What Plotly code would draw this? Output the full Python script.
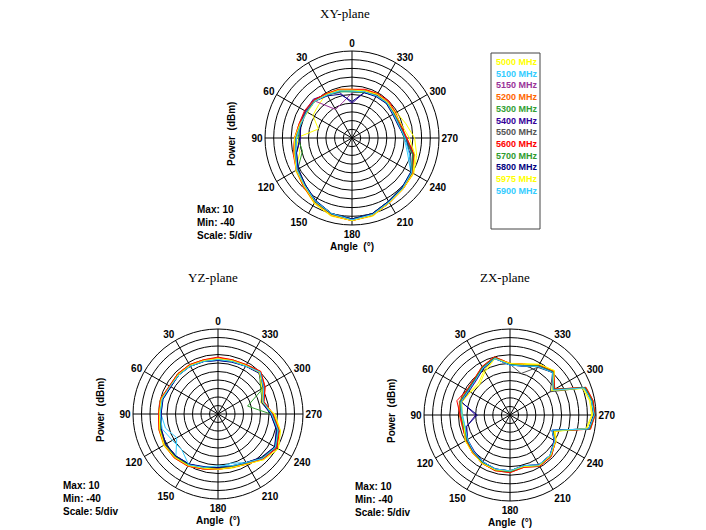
import plotly.graph_objects as go

W, H = 706, 530

FREQS = ["5000 MHz", "5100 MHz", "5150 MHz", "5200 MHz", "5300 MHz", "5400 MHz",
         "5500 MHz", "5600 MHz", "5700 MHz", "5800 MHz", "5975 MHz", "5900 MHz"]
COLORS = ["#FFFF00", "#33CCFF", "#993399", "#FF6600", "#33A033", "#330099",
          "#555555", "#FF0000", "#2E9B2E", "#000080", "#FFFF00", "#33CCFF"]

ANGLE_TICKS = list(range(0, 360, 30))
ANGLE_TEXT = [str(a) for a in ANGLE_TICKS]

XY_ANGLES = list(range(0, 360, 15))
XY_DATA = [
    [-12, -11, -10.5, -13, -14, -20, -8, -9, -2.5, -0.5, 3.5, 6.5, 7.5, 6.5, 3, 1.5, 1, -1.5, -4, -8, -10.5, -11, -10.5, -11.5],
    [-13.5, -12, -11, -9, -10, -9.5, -8, -6.5, -3, -1, 2, 5, 6.5, 5, 2, 0.5, -1, -7, -10, -12, -12.5, -11.5, -12, -12.5],
    [-14, -19, -21, -10, -9, -9.5, -7, -5.5, -4, -2, 2, 5, 7, 5.5, 2.5, 1, 0, -3, -9.5, -12, -12, -10.5, -11, -12.5],
    [-12.5, -11.5, -10.5, -9, -9, -8.5, -7, -5.5, -3, -1, 3, 6, 7.5, 6, 3, 1.5, 0.5, -3, -8.5, -11, -11.5, -10.5, -11, -11.5],
    [-13, -12.5, -11.5, -10, -10, -9.5, -8, -6.5, -3.5, -1.5, 2.5, 5.5, 7, 5.5, 2.5, 1, 0, -3.5, -9, -11.5, -12, -11.5, -12, -12.5],
    [-20, -13, -11, -8.5, -9, -9, -10.5, -7, -4, -2, 2, 5, 6.5, 5, 2, 0.5, -0.5, -4, -9.5, -12, -12.5, -11.5, -12, -13],
    [-12.5, -11.5, -11, -9.5, -9.5, -9, -7.5, -6, -3.5, -1.5, 2.5, 5.5, 7, 5.5, 2.5, 1, 0, -3.5, -9, -11.5, -12, -11, -11.5, -12],
    [-12, -11, -10.5, -9, -8.5, -8.5, -7, -5, -3, -0.5, 3, 6, 7.5, 6, 3, 1.5, 0.5, -3, -8.5, -11, -11, -10, -10.5, -11],
    [-13.5, -12.5, -11.5, -10, -10, -9.5, -9, -10.5, -4, -2, 2, 5, 6.5, 5, 2, 0.5, -0.5, -4, -10, -12, -12.5, -12, -12, -13],
    [-19, -14, -12, -10, -10, -9.5, -10, -7, -4.5, -2, 1.5, 5, 6.5, 5, 2, 0.5, -1, -5.5, -9.5, -12.5, -13, -12, -12.5, -13],
    [-12.5, -11.5, -11, -10, -10.5, -9, -7, -5.5, -3, -1, 3, 6, 7.5, 6, 3, 1.5, 0.5, -2.5, -7, -10.5, -11.5, -11, -11, -12],
    [-13, -12, -11.5, -10, -10, -9.5, -8, -6.5, -3.5, -1.5, 2, 5, 7, 5.5, 2.5, 1, -0.5, -6, -9.5, -12, -12.5, -11.5, -12, -12.5],
]

YZ_ANGLES = list(range(0, 360, 15))
YZ_DATA = [
    [-7.5, -7, -6.5, -6.5, -7, -5, -5, -4, -3, -3.5, -4.5, -6.5, -7.5, -7, -6, -2, 1, -2, -6.5, -14, -9.5, -5.5, -7, -7],
    [-8.5, -8, -7.5, -7.5, -8, -6.5, -6.5, -8, -12, -5, -6, -7.5, -8.5, -10, -7, -3.5, -1, -4, -8.5, -13, -9, -5.5, -7.5, -8],
    [-8, -7.5, -7, -7, -7.5, -6, -6, -5, -4.5, -4.5, -5.5, -7, -8, -8, -6.5, -3, -0.5, -3.5, -8, -12.5, -8.5, -5, -7, -7.5],
    [-7, -7, -6.5, -6.5, -7, -5.5, -5.5, -4.5, -3.5, -4, -5, -6.5, -7.5, -7.5, -6, -2.5, 0, -3, -7.5, -12, -8, -4.5, -6.5, -7],
    [-8, -7.5, -7, -7.5, -7.5, -6, -6, -5, -4, -4.5, -5.5, -7, -8, -8, -6.5, -3.5, -1, -4, -9, -22, -9, -5, -7, -7.5],
    [-8.5, -8, -7.5, -7, -8, -6, -6.5, -5.5, -4.5, -5, -6, -7.5, -8.5, -8, -7, -3.5, -1.5, -4, -9, -13, -9, -5.5, -7.5, -8],
    [-8, -7.5, -7, -7, -7.5, -5.5, -6, -4.5, -4, -4, -5, -7, -8, -7.5, -6.5, -3, -0.5, -3, -8, -12.5, -8.5, -5, -7, -7.5],
    [-6.5, -7, -6.5, -6.5, -7, -5, -5, -4, -3.5, -3.5, -4.5, -6.5, -7.5, -7.5, -6, -2.5, 0, -2.5, -7.5, -12, -8, -4.5, -6.5, -7],
    [-8, -8, -7.5, -7, -7.5, -6, -6, -5, -4.5, -4.5, -5.5, -7.5, -8.5, -8, -7, -3.5, -1, -3.5, -8.5, -13, -11, -5.5, -7.5, -8],
    [-8.5, -8, -7.5, -7.5, -8, -6.5, -6.5, -5.5, -4.5, -5, -6, -8, -8.5, -8.5, -7, -4, -1.5, -4.5, -9, -13.5, -9.5, -6, -7.5, -8.5],
    [-7.5, -7.5, -7, -7, -7.5, -5.5, -5.5, -4.5, -3.5, -4, -5, -7, -7.5, -7.5, -6, -2, 1, -2, -7, -13, -10, -5.5, -7, -7.5],
    [-8, -8, -7.5, -7.5, -7.5, -6, -6, -6, -9, -10, -5.5, -7.5, -9.5, -8.5, -7, -3, -1, -3.5, -8.5, -12.5, -9, -5, -7.5, -8],
]

ZX_ANGLES = [0, 15, 30, 45, 60, 75, 90, 105, 120, 135, 150, 165, 180, 195, 210, 225,
             240, 250, 260, 270, 280, 290, 300, 315, 330, 345]
ZX_DATA = [
    [-10, -6, -10, -14, -13, -11, -12, -13, -10, -9, -7.5, -6.5, -7.5, -9, -6, -6.5, -9, -12, 5, 7.5, 7, 5, -12, -3.5, -6, -9],
    [-11, -6, -8.5, -11.5, -12, -10.5, -12.5, -13, -11.5, -10, -8.5, -7.5, -7.5, -9.5, -6.5, -7, -10, -14, 6.5, 9, 8, 6, -11, -5, -7.5, -10.5],
    [-10.5, -5.5, -8, -11, -11.5, -10, -11, -12, -11, -9.5, -8, -7, -7, -9, -6, -6, -9.5, -13.5, 7, 9, 8.5, 6.5, -10, -4.5, -7, -10.5],
    [-10, -5, -7.5, -10.5, -11, -9.5, -10.5, -11.5, -10.5, -9, -7.5, -6.5, -6.5, -8.5, -5.5, -6, -9.5, -13, 7.5, 9.5, 9, 7, -10, -4, -6.5, -9.5],
    [-10.5, -5.5, -8.5, -11, -12, -10, -12, -12.5, -11, -10, -8, -7, -7, -9, -6, -6.5, -10, -13.5, 7, 9, 8.5, 6.5, -10.5, -4.5, -7, -10],
    [-11, -6, -9, -12, -12.5, -11, -20, -14, -11.5, -10.5, -8.5, -7.5, -7.5, -9.5, -6.5, -7, -10.5, -14, 6.5, 8.5, 8, 6, -11, -5, -7.5, -10.5],
    [-10.5, -5.5, -8, -11, -11.5, -10, -11.5, -12, -11, -9.5, -8, -7, -7, -9, -6, -6.5, -10, -13.5, 7, 9, 8.5, 6.5, -13, -5, -8, -15],
    [-10, -5, -7.5, -10.5, -11, -8, -11, -11.5, -10.5, -9, -7.5, -6.5, -6.5, -8.5, -5.5, -6, -9.5, -13, 7.5, 9.5, 9, 7, -10, -4, -6.5, -9.5],
    [-10.5, -5.5, -8, -11, -11.5, -10, -12, -12, -11, -10, -8, -7, -7, -9, -6, -6.5, -10, -13.5, 7, 9, 8.5, 6.5, -10.5, -4.5, -7, -10],
    [-11, -6, -9, -11.5, -12, -10.5, -21, -13.5, -11.5, -10, -8.5, -7.5, -7.5, -9.5, -6.5, -7, -10, -14, 6.5, 8.5, 8, 6, -11, -5, -7.5, -10.5],
    [-10, -6, -11, -15, -13.5, -11, -12, -12.5, -10, -9, -7.5, -7, -7.5, -9, -6, -6.5, -9.5, -12.5, 5.5, 8, 7.5, 5.5, -11.5, -3.5, -6, -9.5],
    [-11, -6, -8.5, -11.5, -12, -10.5, -12, -13, -11.5, -10, -8.5, -7.5, -7.5, -9.5, -6.5, -7, -10, -14, 6.5, 9, 8, 6, -11, -5, -7.5, -10.5],
]

R_MIN, R_MAX, R_STEP = -40, 10, 5

# layout geometry (pixels): subplot key, plane name, centre x, centre y, radius
PLOTS = [
    ("polar", "XY-plane", 352, 138, 87, XY_ANGLES, XY_DATA),
    ("polar2", "YZ-plane", 218, 414, 85, YZ_ANGLES, YZ_DATA),
    ("polar3", "ZX-plane", 510, 415, 86, ZX_ANGLES, ZX_DATA),
]


def px(x):
    return x / W


def py(y):
    return 1 - y / H


fig = go.Figure()
BOLD = dict(family="Liberation Sans, Arial", size=10, color="black", weight="bold")

annotations = []
for key, title, cx, cy, r, angles, data in PLOTS:
    for name, color, vals in zip(FREQS, COLORS, data):
        fig.add_trace(go.Scatterpolar(
            r=vals + [vals[0]], theta=angles + [angles[0]], mode="lines",
            line=dict(color=color, width=1), name=name, subplot=key,
            showlegend=False, hoverinfo="skip"))
    fig.update_layout(**{key: dict(
        domain=dict(x=[px(cx - r), px(cx + r)], y=[py(cy + r), py(cy - r)]),
        bgcolor="white",
        angularaxis=dict(rotation=90, direction="counterclockwise", tickmode="array",
                         tickvals=ANGLE_TICKS, ticktext=ANGLE_TEXT, showline=True,
                         linecolor="black", linewidth=1, gridcolor="black", gridwidth=1,
                         ticks="", tickfont=BOLD),
        radialaxis=dict(range=[R_MIN, R_MAX], tick0=R_MIN, dtick=R_STEP,
                        showticklabels=False, ticks="", showline=False,
                        gridcolor="black", gridwidth=1),
    )})
    tx = cx - 7 if key == "polar" else cx - 5
    ty = 14 if key == "polar" else 277
    annotations.append(dict(text=title, x=px(tx), y=py(ty), xref="paper", yref="paper",
                            showarrow=False, xanchor="center", yanchor="middle",
                            font=dict(family="Liberation Serif, Times New Roman", size=13, color="black")))
    annotations.append(dict(text="Angle  (°)", x=px(cx), y=py(cy + r + 21), xref="paper", yref="paper",
                            showarrow=False, xanchor="center", yanchor="middle", font=BOLD))
    annotations.append(dict(text="Power  (dBm)", x=px(cx - r - 33), y=py(cy - 4), xref="paper", yref="paper",
                            showarrow=False, xanchor="center", yanchor="middle", textangle=-90, font=BOLD))
    annotations.append(dict(text=f"Max: {R_MAX}<br>Min: {R_MIN}<br>Scale: {R_STEP}/div",
                            x=px(cx - 157), y=py(cy + 64), xref="paper", yref="paper",
                            showarrow=False, xanchor="left", yanchor="top", align="left", font=BOLD))

# legend box with coloured labels
LEG_X0, LEG_X1, LEG_Y0, LEG_Y1 = 491, 540, 53, 229
for i, (name, color) in enumerate(zip(FREQS, COLORS)):
    annotations.append(dict(text=name, x=px(LEG_X0 + 3), y=py(62 + i * 11.7), xref="paper", yref="paper",
                            showarrow=False, xanchor="left", yanchor="middle",
                            font=dict(family="Liberation Sans, Arial", size=9, color=color, weight="bold")))

fig.update_layout(
    width=W, height=H, margin=dict(l=0, r=0, t=0, b=0),
    paper_bgcolor="white", plot_bgcolor="white", showlegend=False,
    annotations=annotations,
    shapes=[dict(type="rect", xref="paper", yref="paper", x0=px(LEG_X0), x1=px(LEG_X1),
                 y0=py(LEG_Y1), y1=py(LEG_Y0), line=dict(color="#444444", width=1))],
)

fig.write_html("out.html", config={"displayModeBar": False},
               post_script="document.body.style.margin='0';")
